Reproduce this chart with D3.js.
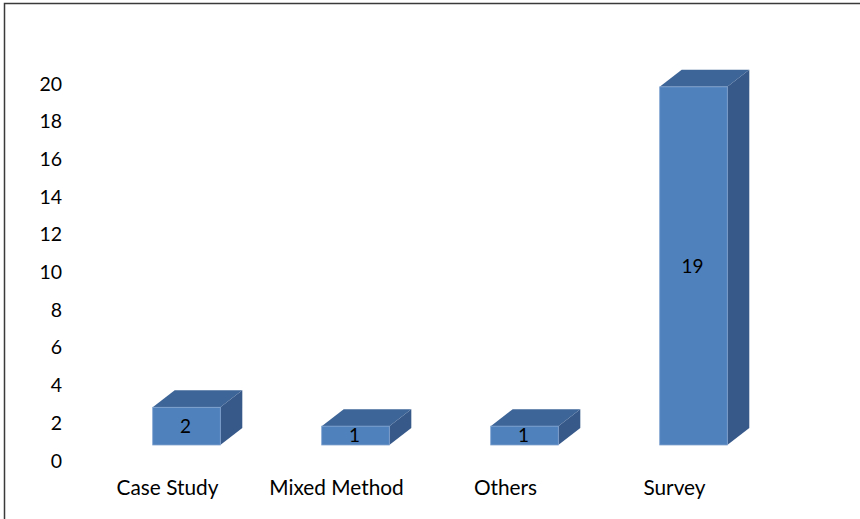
<!DOCTYPE html>
<html>
<head>
<meta charset="utf-8">
<script src="https://cdn.jsdelivr.net/npm/d3@7/dist/d3.min.js"></script>
<style>
  html, body { margin: 0; padding: 0; background: #fff; }
  svg { display: block; }
</style>
</head>
<body>
<svg id="chart" width="860" height="519"></svg>
<script>
const categories = ["Case Study", "Mixed Method", "Others", "Survey"];
const values = [2, 1, 1, 19];
const tickValues = [0, 2, 4, 6, 8, 10, 12, 14, 16, 18, 20];

const svg = d3.select("#chart");
const font = "Lato, 'Liberation Sans', Arial, sans-serif";

// outer border (only left and top visible within the image)
svg.append("rect")
  .attr("x", 4.5).attr("y", 3.5)
  .attr("width", 1000).attr("height", 1000)
  .attr("fill", "none").attr("stroke", "#3a3a3a").attr("stroke-width", 1.5);

const y = d3.scaleLinear().domain([0, 20]).range([460, 83]);
const x = d3.scaleBand().domain(categories).range([102, 778])
  .paddingInner(0.6).paddingOuter(0.3);

const frontShift = 15;   // front face is drawn in front of the back wall
const dx = 22, dy = 17;  // depth

// y-axis tick labels
const yAxis = d3.axisLeft(y).tickValues(tickValues).tickSize(0).tickPadding(0);
const gy = svg.append("g").attr("transform", "translate(62,0)").call(yAxis);
gy.select(".domain").remove();
gy.selectAll("text")
  .attr("font-family", font).attr("font-size", 19.5).attr("fill", "#000")
  .attr("dy", "0.36em");

// category labels
const xAxis = d3.axisBottom(x).tickSize(0).tickPadding(0);
const gx = svg.append("g").attr("transform", "translate(-19,480)").call(xAxis);
gx.select(".domain").remove();
gx.selectAll("text")
  .attr("font-family", font).attr("font-size", 20.8).attr("fill", "#000")
  .attr("dy", "0.71em");

const bars = svg.append("g").selectAll("g").data(categories.map((c, i) => ({c, v: values[i]})))
  .join("g");

bars.each(function(d) {
  const g = d3.select(this);
  const x0 = x(d.c), x1 = x0 + x.bandwidth();
  const yt = y(d.v) - frontShift, yb = y(0) - frontShift;
  // side
  g.append("path")
    .attr("d", `M${x1},${yt}L${x1 + dx},${yt - dy}L${x1 + dx},${yb - dy}L${x1},${yb}Z`)
    .attr("fill", "#37598a");
  // top
  g.append("path")
    .attr("d", `M${x0},${yt}L${x0 + dx},${yt - dy}L${x1 + dx},${yt - dy}L${x1},${yt}Z`)
    .attr("fill", "#3e6597");
  // front
  g.append("rect")
    .attr("x", x0).attr("y", yt).attr("width", x1 - x0).attr("height", yb - yt)
    .attr("fill", "#4f81bd").attr("stroke", "#7fa2cf").attr("stroke-width", 0.8);
  // value label
  g.append("text")
    .attr("x", (x0 + x1) / 2 - 1).attr("y", (yt + yb) / 2)
    .attr("dy", "0.36em")
    .attr("text-anchor", "middle")
    .attr("font-family", font).attr("font-size", 19).attr("fill", "#000")
    .text(d.v);
});
</script>
</body>
</html>
